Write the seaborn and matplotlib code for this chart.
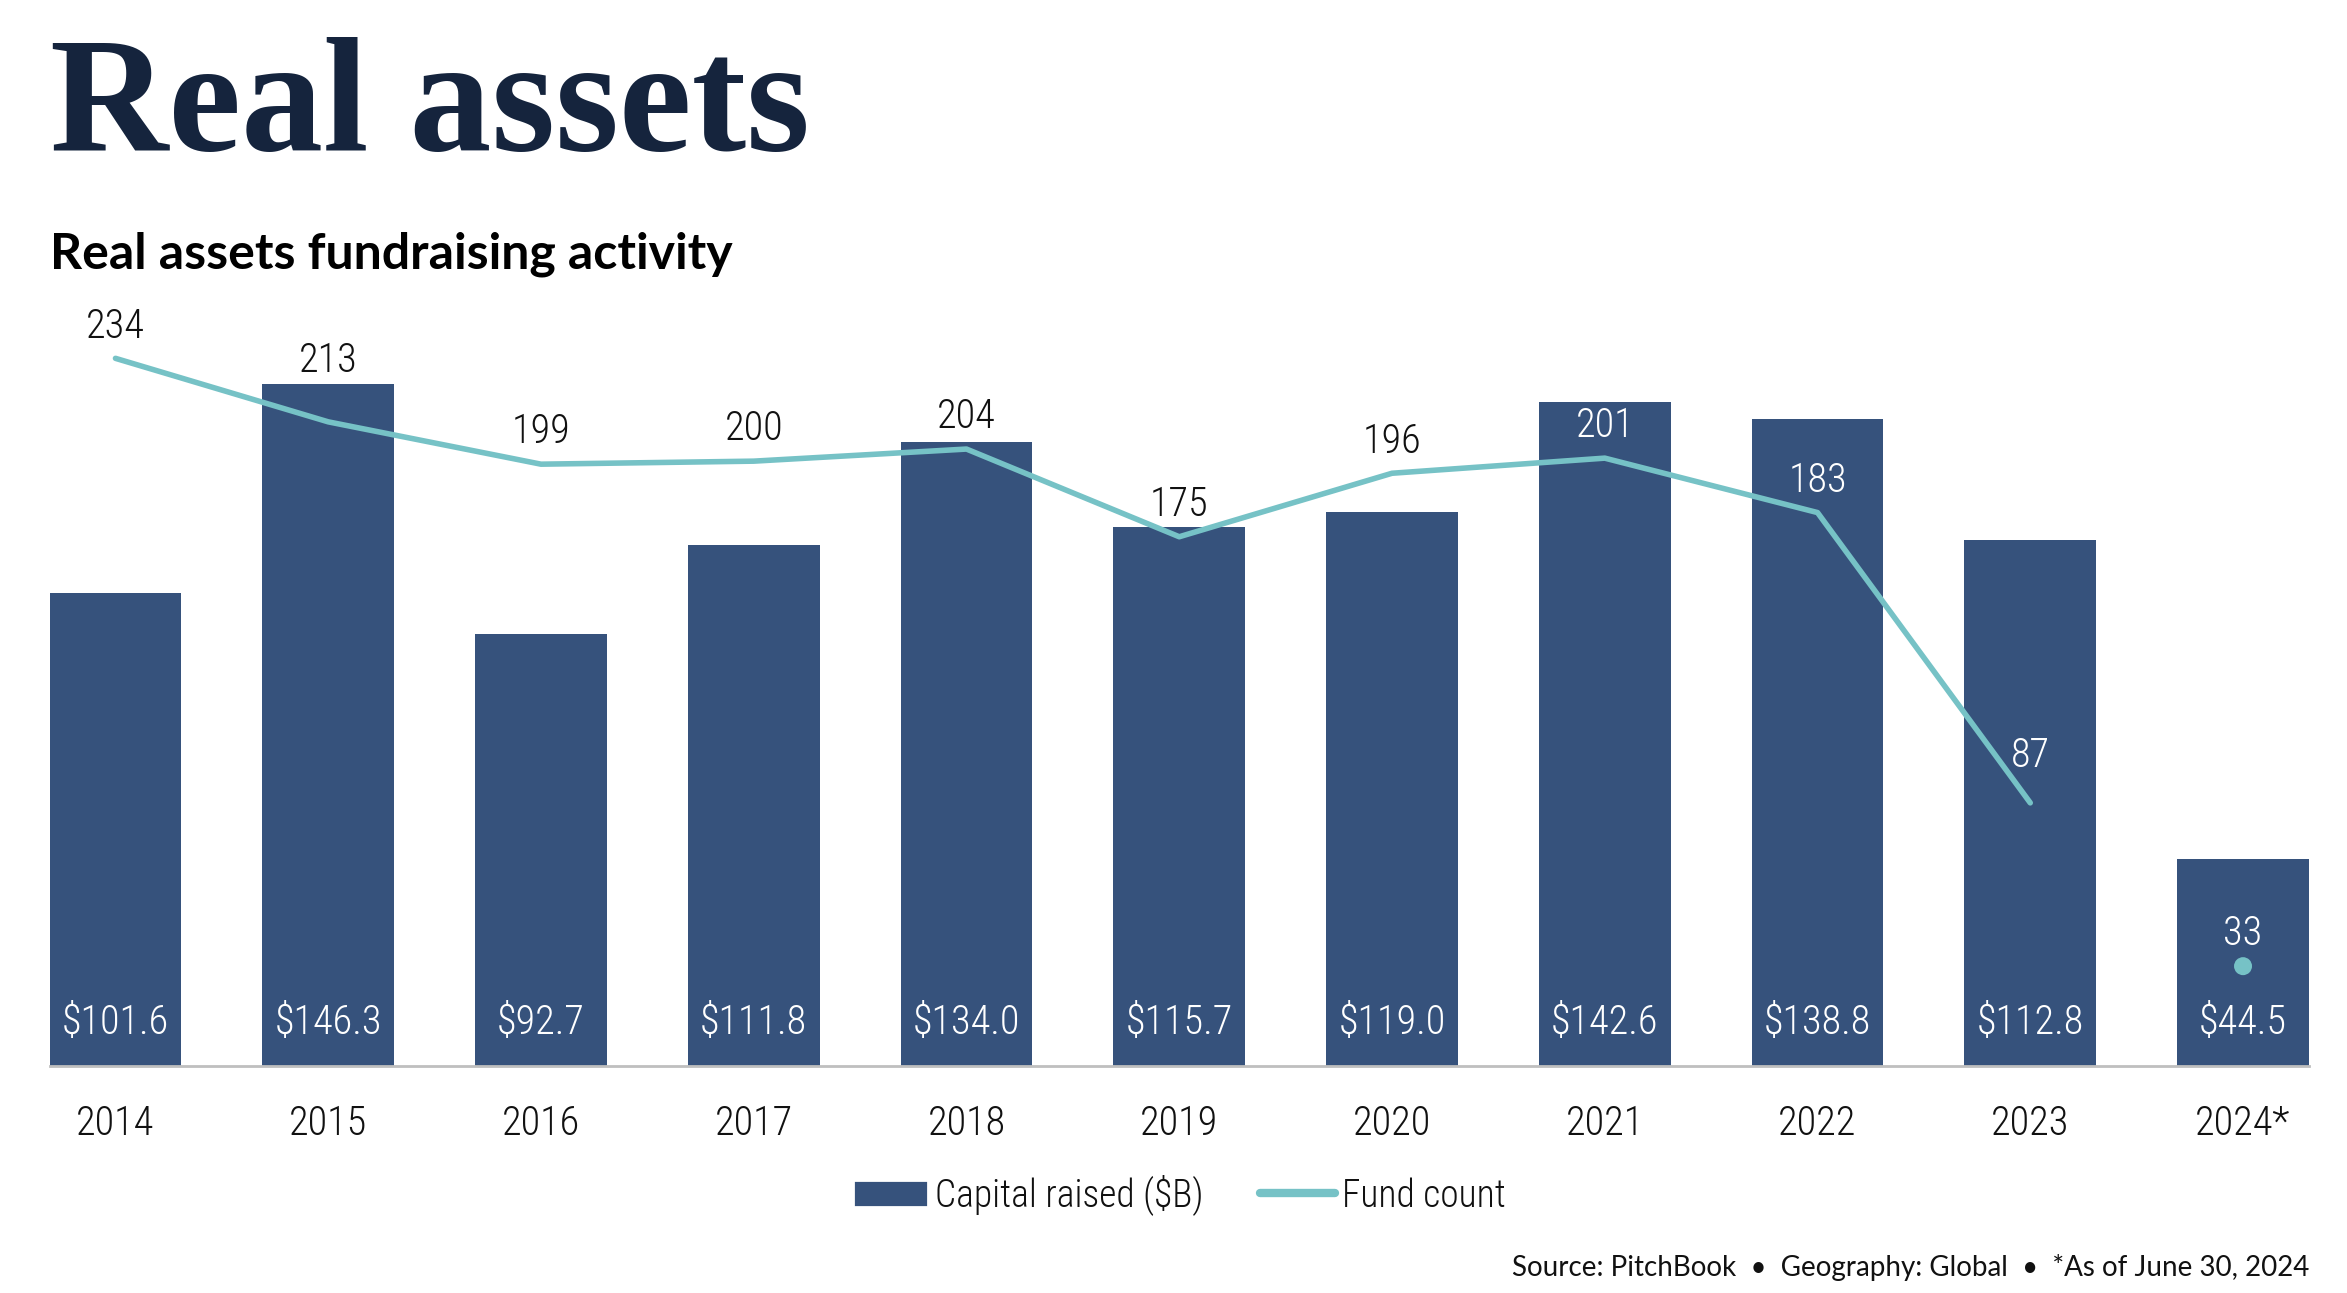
import numpy as np
import pandas as pd
import matplotlib.pyplot as plt
import seaborn as sns
from matplotlib import font_manager
from matplotlib.patches import Patch
from matplotlib.lines import Line2D

# data
years = ["2014", "2015", "2016", "2017", "2018", "2019", "2020", "2021", "2022", "2023", "2024*"]
capital = [101.6, 146.3, 92.7, 111.8, 134.0, 115.7, 119.0, 142.6, 138.8, 112.8, 44.5]
fund_count = [234, 213, 199, 200, 204, 175, 196, 201, 183, 87, 33]
partial_year = "2024*"

bar_color = "#36527C"
line_color = "#76C2C6"
title_color = "#15243D"
ink = "#111111"

installed = {f.name for f in font_manager.fontManager.ttflist}


def pick(cands):
    for c in cands:
        if c in installed:
            return c
    return "DejaVu Sans"


narrow = pick(["Roboto Condensed", "Liberation Sans Narrow", "DejaVu Sans Condensed",
               "Open Sans Condensed", "Lato"])
lato = pick(["Lato", "Open Sans", "DejaVu Sans"])
serif = pick(["Liberation Serif", "DejaVu Serif"])

sns.set_theme(style="white")
plt.rcParams["font.family"] = [narrow, "DejaVu Sans"]
plt.rcParams["font.weight"] = "light"
fs = 14.5

df = pd.DataFrame({"year": years, "capital": capital, "funds": fund_count})
df["pos"] = np.arange(len(df))

fig = plt.figure(figsize=(11.735, 6.465), dpi=200)
ax = fig.add_axes([0.0211, 0.1756, 0.9627, 0.5924])

sns.barplot(data=df, x="year", y="capital", color=bar_color, saturation=1,
            width=0.62, linewidth=0, ax=ax)
ax.set_xlim(-0.31, len(years) - 1 + 0.31)
ax.set_ylim(0, 164.4)

ax2 = ax.twinx()
full = df[df["year"] != partial_year]
part = df[df["year"] == partial_year]
sns.lineplot(data=full, x="pos", y="funds", ax=ax2, color=line_color, lw=2.0,
             solid_capstyle="round", legend=False)
sns.scatterplot(data=part, x="pos", y="funds", ax=ax2, color=line_color, s=42,
                edgecolor="none", legend=False)
ax2.set_ylim(0, 253.3)

for a in (ax, ax2):
    a.set_xlabel("")
    a.set_ylabel("")
    a.set_yticks([])
    for s in ("top", "left", "right"):
        a.spines[s].set_visible(False)
ax2.spines["bottom"].set_visible(False)
ax.spines["bottom"].set_color("#BFBFBF")
ax.spines["bottom"].set_linewidth(1.0)
ax.tick_params(axis="x", length=0, pad=14, labelsize=fs, colors=ink)

# capital labels near the bottom of each bar
for i, v in enumerate(capital):
    ax.annotate(f"\\${v:.1f}", (i, 0), xytext=(0, 15.5), textcoords="offset points",
                ha="center", va="center", color="white", fontsize=fs)

# fund count labels, white when they sit inside a bar
lift = {"2015": 22, "2023": 17}
for i, (yr, n, cap) in enumerate(zip(years, fund_count, capital)):
    dy = lift.get(yr, 11.5)
    label_px = ax2.transData.transform((i, n))[1] + dy * fig.dpi / 72
    top_px = ax.transData.transform((i, cap))[1]
    col = "white" if label_px < top_px else ink
    ax2.annotate(str(n), (i, n), xytext=(0, dy), textcoords="offset points",
                 ha="center", va="center", color=col, fontsize=fs)

handles = [Patch(facecolor=bar_color, label="Capital raised (\\$B)"),
           Line2D([], [], color=line_color, lw=3, label="Fund count")]
fig.legend(handles=handles, loc="center", bbox_to_anchor=(0.5025, 0.0758), ncol=2,
           frameon=False, fontsize=13.5, handlelength=2.0, handleheight=0.7,
           handletextpad=0.2, columnspacing=1.5, labelcolor=ink)

fig.text(0.0213, 0.884, "Real assets", family=serif, weight="bold", fontsize=59,
         color=title_color, va="baseline", ha="left")
fig.text(0.0213, 0.7927, "Real assets fundraising activity", family=[lato, "DejaVu Sans"],
         weight="bold", fontsize=18, color="black", va="baseline", ha="left")
fig.text(0.9838, 0.0201, "Source: PitchBook  \u2022  Geography: Global  \u2022  *As of June 30, 2024",
         family=[lato, "DejaVu Sans"], weight="normal", fontsize=10, color=ink,
         ha="right", va="center")

fig.savefig("out.png", dpi=200)
